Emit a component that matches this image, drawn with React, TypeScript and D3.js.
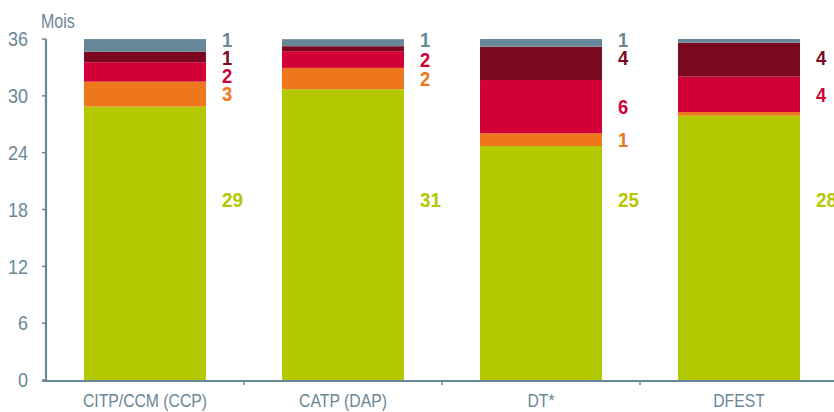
import React from "react";
import * as d3 from "d3";

const categories = ["CITP/CCM (CCP)", "CATP (DAP)", "DT*", "DFEST"];
const greenValues = [28.86, 30.7, 24.7, 27.9];
const orangeValues = [2.64, 2.25, 1.34, 0.39];
const redValues = [2.05, 1.76, 5.63, 3.73];
const darkRedValues = [1.1, 0.53, 3.52, 3.59];
const grayValues = [1.34, 0.74, 0.81, 0.39];

const greenLabels = ["29", "31", "25", "28"];
const orangeLabels = ["3", "2", "1", ""];
const redLabels = ["2", "2", "6", "4"];
const darkRedLabels = ["1", "", "4", "4"];
const grayLabels = ["1", "1", "1", ""];

const yTicks = [0, 6, 12, 18, 24, 30, 36];
const yTitle = "Mois";

const W = 834;
const H = 412;
const AXIS = "#6a8797";
const FONT = "'Liberation Sans', Arial, sans-serif";

const series = [
  { key: "green", values: greenValues, labels: greenLabels, color: "#b4c800" },
  { key: "orange", values: orangeValues, labels: orangeLabels, color: "#ee761b" },
  { key: "red", values: redValues, labels: redLabels, color: "#d20037" },
  { key: "darkRed", values: darkRedValues, labels: darkRedLabels, color: "#7b0820" },
  { key: "gray", values: grayValues, labels: grayLabels, color: "#668898" },
];

function Txt(props: {
  x: number;
  y: number;
  children: any;
  fill: string;
  size: number;
  sx?: number;
  anchor?: string;
  bold?: boolean;
  dy?: string;
}) {
  const { x, y, children, fill, size, sx = 0.83, anchor = "start", bold, dy } = props;
  return (
    <text
      transform={`translate(${x},${y}) scale(${sx},1)`}
      textAnchor={anchor}
      fill={fill}
      fontSize={size}
      fontWeight={bold ? "bold" : "normal"}
      dy={dy}
    >
      {children}
    </text>
  );
}

export default function App() {
  const left = 46;
  const y = d3.scaleLinear().domain([0, 36]).range([380, 39]);
  const x = d3
    .scaleBand<string>()
    .domain(categories)
    .range([left, left + 792])
    .paddingInner(0.384)
    .paddingOuter(0.192);
  const bw = x.bandwidth();
  const step = x.step();

  const rows = categories.map((c, i) => {
    const obj: any = { cat: c };
    series.forEach((s) => (obj[s.key] = s.values[i]));
    return obj;
  });
  const stack = d3.stack<any>().keys(series.map((s) => s.key))(rows);

  const bars: JSX.Element[] = [];
  const labels: JSX.Element[] = [];

  categories.forEach((c, i) => {
    const x0 = x(c)!;
    stack.forEach((layer, si) => {
      const [a, b] = layer[i];
      bars.push(
        <rect
          key={`b-${si}-${i}`}
          x={x0}
          y={y(b)}
          width={bw}
          height={y(a) - y(b)}
          fill={series[si].color}
        />
      );
    });
    const lx = x0 + bw + 16;
    if (series[0].labels[i]) {
      labels.push(
        <Txt key={`l-g-${i}`} x={lx} y={y(19)} dy="0.36em" fill={series[0].color} bold size={20.5} sx={0.92}>
          {series[0].labels[i]}
        </Txt>
      );
    }
    const items: { y: number; text: string; color: string; si: number }[] = [];
    for (let si = series.length - 1; si >= 1; si--) {
      const t = series[si].labels[i];
      if (!t) continue;
      const [a, b] = stack[si][i];
      let cy = (y(a) + y(b)) / 2;
      if (si === series.length - 1) cy = y(36) + 0.5;
      else if (si === series.length - 2) cy = Math.min(cy, y(36) + 19);
      items.push({ y: cy, text: t, color: series[si].color, si });
    }
    for (let k = 1; k < items.length; k++) {
      items[k].y = Math.max(items[k].y, items[k - 1].y + 18.2);
    }
    items.forEach((it) => {
      labels.push(
        <Txt key={`l-${it.si}-${i}`} x={lx} y={it.y} dy="0.36em" fill={it.color} bold size={20} sx={0.92}>
          {it.text}
        </Txt>
      );
    });
  });

  return (
    <svg
      width={W}
      height={H}
      style={{ position: "absolute", left: 0, top: 0, background: "#fff" }}
      fontFamily={FONT}
    >
      {bars}
      <line x1={left} x2={left} y1={y(36)} y2={y(0) + 1} stroke={AXIS} strokeWidth={2.2} />
      {yTicks.map((t) => (
        <g key={`yt-${t}`}>
          <line x1={left - 4} x2={left} y1={y(t)} y2={y(t)} stroke={AXIS} strokeWidth={1.5} />
          <Txt x={28} y={y(t)} dy="0.36em" anchor="end" fill={AXIS} size={20} sx={0.9}>
            {t}
          </Txt>
        </g>
      ))}
      <Txt x={41} y={27.5} fill={AXIS} size={19.5} sx={0.82}>
        {yTitle}
      </Txt>
      <line x1={left - 4} x2={W} y1={y(0) + 1} y2={y(0) + 1} stroke={AXIS} strokeWidth={2.2} />
      {categories.slice(0, -1).map((c) => {
        const bx = x(c)! + bw + (step - bw) / 2;
        return <line key={`xt-${c}`} x1={bx} x2={bx} y1={y(0) + 1} y2={y(0) + 5} stroke={AXIS} strokeWidth={1.5} />;
      })}
      {categories.map((c) => (
        <Txt key={`xl-${c}`} x={x(c)! + bw / 2} y={407} anchor="middle" fill={AXIS} size={19}>
          {c}
        </Txt>
      ))}
      {labels}
    </svg>
  );
}
